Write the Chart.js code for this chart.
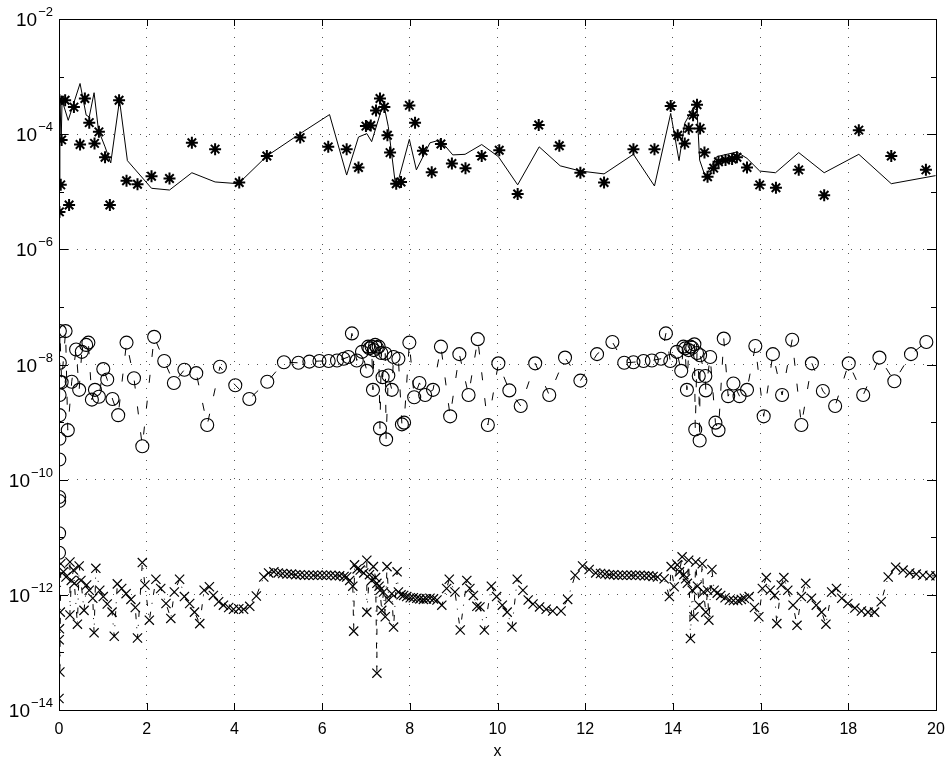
<!DOCTYPE html>
<html lang="en">
<head>
    <meta charset="UTF-8">
    <title>Log-scale error plot</title>
    <script src="https://cdn.jsdelivr.net/npm/chart.js"></script>
    <style>
        html, body { margin: 0; background: #fff; overflow: hidden; }
        #wrap { width: 947px; height: 761px; }
        #errChart { display: block; }
    </style>
</head>
<body>
    <div id="wrap"><canvas id="errChart"></canvas></div>

    <script>
        // x ticks and y decades (exponents of 10)
        const xTicks = [0, 2, 4, 6, 8, 10, 12, 14, 16, 18, 20];
        const yDecades = [-14, -13, -12, -11, -10, -9, -8, -7, -6, -5, -4, -3, -2];

        // top series: solid line (x, log10 y)
        const topLineX = [0.01, 0.02, 0.05, 0.07, 0.21, 0.48, 0.62, 0.69, 0.80, 0.90, 1.05, 1.18, 1.38, 1.56, 2.11, 2.52, 3.03, 3.56, 4.09, 4.74, 5.50, 6.17, 6.56, 6.83, 7.02, 7.13, 7.40, 7.51, 7.67, 7.74, 7.99, 8.15, 8.46, 8.69, 8.98, 9.26, 9.64, 10.02, 10.46, 10.95, 11.43, 11.89, 12.43, 13.10, 13.58, 13.95, 14.14, 14.27, 14.46, 14.55, 14.61, 14.74, 15.00, 15.46, 15.69, 15.98, 16.34, 16.87, 17.45, 18.24, 18.98, 19.99];
        const topLineLog = [-4.95, -3.41, -4.10, -3.41, -3.76, -3.12, -3.67, -3.70, -3.28, -3.93, -4.22, -4.50, -3.41, -4.46, -4.94, -4.97, -4.67, -4.83, -4.86, -4.38, -3.99, -3.66, -4.71, -4.05, -3.99, -4.13, -3.46, -3.87, -4.86, -4.80, -4.09, -4.62, -4.15, -4.10, -4.36, -4.35, -4.18, -4.39, -4.88, -4.22, -4.55, -4.64, -4.69, -4.35, -4.90, -3.64, -4.46, -3.81, -3.55, -3.58, -4.45, -4.74, -4.39, -4.31, -4.42, -4.64, -4.67, -4.32, -4.67, -4.35, -4.86, -4.72];

        // top series: asterisk markers
        const topMarkX = [0.01, 0.01, 0.04, 0.06, 0.14, 0.23, 0.34, 0.48, 0.59, 0.69, 0.81, 0.91, 1.05, 1.16, 1.37, 1.54, 1.79, 2.11, 2.52, 3.03, 3.56, 4.11, 4.74, 5.50, 6.14, 6.56, 6.83, 7.00, 7.11, 7.23, 7.32, 7.42, 7.49, 7.55, 7.69, 7.80, 7.99, 8.12, 8.30, 8.50, 8.71, 8.96, 9.27, 9.64, 10.04, 10.46, 10.94, 11.41, 11.89, 12.43, 13.10, 13.58, 13.95, 14.11, 14.27, 14.36, 14.46, 14.55, 14.62, 14.72, 14.79, 14.93, 15.04, 15.20, 15.35, 15.46, 15.69, 15.98, 16.35, 16.87, 17.45, 18.24, 18.98, 19.77];
        const topMarkLog = [-3.41, -5.35, -4.88, -4.10, -3.41, -5.23, -3.53, -4.18, -3.38, -3.80, -4.16, -3.96, -4.40, -5.23, -3.41, -4.81, -4.87, -4.73, -4.77, -4.15, -4.26, -4.84, -4.38, -4.06, -4.22, -4.26, -4.58, -3.86, -3.85, -3.59, -3.38, -3.53, -4.02, -4.32, -4.86, -4.83, -3.50, -3.80, -4.29, -4.66, -4.17, -4.51, -4.59, -4.38, -4.28, -5.04, -3.84, -4.20, -4.67, -4.84, -4.26, -4.26, -3.51, -4.02, -4.16, -3.90, -3.67, -3.49, -3.90, -4.32, -4.74, -4.59, -4.48, -4.45, -4.43, -4.40, -4.58, -4.88, -4.93, -4.62, -5.06, -3.93, -4.38, -4.62];

        // middle series: circles joined by a dashed line
        const midX = [0.000, 0.002, 0.004, 0.005, 0.007, 0.009, 0.011, 0.013, 0.015, 0.018, 0.02, 0.06, 0.15, 0.20, 0.29, 0.39, 0.46, 0.52, 0.62, 0.67, 0.75, 0.82, 0.91, 1.01, 1.10, 1.22, 1.35, 1.54, 1.71, 1.90, 2.17, 2.40, 2.62, 2.86, 3.13, 3.38, 3.67, 4.02, 4.34, 4.75, 5.13, 5.46, 5.71, 5.94, 6.15, 6.34, 6.49, 6.60, 6.68, 6.79, 6.91, 7.02, 7.05, 7.08, 7.13, 7.16, 7.18, 7.21, 7.25, 7.29, 7.32, 7.35, 7.38, 7.44, 7.46, 7.51, 7.59, 7.63, 7.74, 7.82, 7.87, 7.99, 8.10, 8.22, 8.35, 8.53, 8.71, 8.92, 9.13, 9.34, 9.55, 9.78, 10.02, 10.27, 10.53, 10.86, 11.18, 11.54, 11.89, 12.27, 12.62, 12.89, 13.10, 13.33, 13.52, 13.73, 13.84, 13.94, 14.09, 14.19, 14.24, 14.28, 14.32, 14.36, 14.40, 14.44, 14.49, 14.51, 14.55, 14.59, 14.61, 14.62, 14.74, 14.75, 14.85, 14.97, 15.04, 15.16, 15.26, 15.38, 15.52, 15.69, 15.88, 16.07, 16.28, 16.49, 16.72, 16.93, 17.17, 17.42, 17.70, 18.01, 18.34, 18.71, 19.05, 19.43, 19.78];
        const midLog = [-11.27, -10.93, -10.37, -10.30, -9.65, -9.29, -8.88, -8.53, -8.30, -7.97, -7.42, -8.31, -7.42, -9.14, -8.30, -7.74, -8.44, -7.78, -7.66, -7.62, -8.61, -8.44, -8.56, -8.08, -8.26, -8.60, -8.88, -7.62, -8.24, -9.42, -7.52, -7.94, -8.32, -8.09, -8.15, -9.05, -8.04, -8.36, -8.60, -8.30, -7.96, -7.97, -7.95, -7.94, -7.94, -7.93, -7.90, -7.87, -7.46, -7.93, -7.78, -8.11, -7.69, -7.72, -7.69, -8.44, -7.75, -7.66, -7.71, -7.69, -9.11, -7.80, -8.22, -7.81, -9.30, -8.19, -8.44, -7.87, -7.90, -9.04, -9.01, -7.62, -8.57, -8.32, -8.53, -8.44, -7.69, -8.90, -7.82, -8.53, -7.56, -9.05, -7.98, -8.45, -8.72, -7.98, -8.53, -7.88, -8.28, -7.82, -7.61, -7.97, -7.96, -7.94, -7.93, -7.90, -7.46, -7.94, -7.78, -8.11, -7.69, -7.72, -8.44, -7.75, -7.69, -7.71, -7.65, -9.13, -7.80, -8.20, -9.32, -7.84, -8.20, -8.45, -7.87, -9.01, -9.14, -7.55, -8.55, -8.33, -8.55, -8.44, -7.68, -8.90, -7.82, -8.53, -7.57, -9.05, -7.98, -8.46, -8.72, -7.98, -8.53, -7.88, -8.29, -7.82, -7.61];

        // bottom series: x markers joined by a dash-dot line
        const botX = [0.000, 0.005, 0.01, 0.02, 0.03, 0.04, 0.10, 0.16, 0.25, 0.25, 0.28, 0.33, 0.35, 0.42, 0.46, 0.50, 0.57, 0.63, 0.69, 0.77, 0.80, 0.84, 0.93, 1.01, 1.10, 1.21, 1.26, 1.33, 1.43, 1.53, 1.64, 1.74, 1.79, 1.90, 1.96, 2.06, 2.21, 2.32, 2.44, 2.55, 2.63, 2.75, 2.86, 2.98, 3.09, 3.21, 3.31, 3.43, 3.52, 3.64, 3.75, 3.87, 3.98, 4.10, 4.21, 4.35, 4.50, 4.67, 4.78, 4.90, 5.00, 5.10, 5.20, 5.30, 5.40, 5.50, 5.60, 5.70, 5.80, 5.90, 6.00, 6.10, 6.20, 6.30, 6.40, 6.50, 6.56, 6.63, 6.70, 6.72, 6.74, 6.80, 6.87, 6.95, 7.02, 7.02, 7.08, 7.13, 7.17, 7.22, 7.25, 7.25, 7.30, 7.32, 7.36, 7.40, 7.44, 7.48, 7.52, 7.59, 7.63, 7.71, 7.74, 7.80, 7.86, 7.93, 8.01, 8.08, 8.16, 8.23, 8.31, 8.38, 8.46, 8.54, 8.62, 8.73, 8.84, 8.90, 9.03, 9.15, 9.30, 9.37, 9.45, 9.53, 9.60, 9.70, 9.86, 9.98, 10.11, 10.22, 10.33, 10.45, 10.58, 10.70, 10.81, 10.96, 11.11, 11.26, 11.45, 11.60, 11.77, 11.94, 12.09, 12.24, 12.35, 12.45, 12.55, 12.65, 12.75, 12.85, 12.95, 13.05, 13.15, 13.25, 13.35, 13.45, 13.55, 13.65, 13.80, 13.92, 13.96, 14.03, 14.10, 14.15, 14.21, 14.25, 14.29, 14.33, 14.36, 14.40, 14.44, 14.48, 14.52, 14.56, 14.60, 14.67, 14.70, 14.75, 14.79, 14.82, 14.89, 14.94, 15.01, 15.09, 15.19, 15.29, 15.38, 15.48, 15.56, 15.63, 15.74, 15.86, 15.96, 16.04, 16.13, 16.22, 16.32, 16.37, 16.47, 16.53, 16.62, 16.74, 16.83, 16.93, 17.03, 17.16, 17.27, 17.39, 17.49, 17.62, 17.73, 17.85, 17.99, 18.15, 18.30, 18.45, 18.60, 18.75, 18.91, 19.08, 19.25, 19.40, 19.55, 19.70, 19.86, 20.00];
        const botLog = [-13.80, -12.78, -12.59, -13.34, -12.30, -11.46, -11.60, -11.69, -11.43, -12.35, -11.75, -11.57, -11.80, -12.51, -11.50, -11.75, -12.27, -11.83, -11.92, -12.06, -12.66, -11.54, -11.92, -12.03, -12.16, -12.30, -12.72, -11.81, -11.89, -11.98, -12.08, -12.22, -12.75, -11.44, -11.83, -12.44, -11.73, -11.89, -12.15, -12.41, -11.95, -11.73, -12.03, -12.15, -12.30, -12.50, -11.92, -11.86, -12.01, -12.12, -12.18, -12.22, -12.25, -12.24, -12.25, -12.20, -12.02, -11.69, -11.62, -11.60, -11.62, -11.63, -11.64, -11.64, -11.65, -11.65, -11.66, -11.66, -11.66, -11.66, -11.66, -11.66, -11.66, -11.67, -11.67, -11.68, -11.69, -11.75, -11.85, -12.63, -11.48, -11.55, -11.57, -11.62, -11.40, -12.30, -11.65, -11.75, -11.51, -11.70, -13.36, -11.80, -11.85, -11.92, -12.27, -11.95, -12.38, -11.51, -12.09, -11.98, -12.56, -11.60, -11.95, -12.00, -12.01, -12.03, -12.05, -12.05, -12.06, -12.07, -12.08, -12.07, -12.06, -12.07, -12.09, -12.18, -11.89, -11.73, -11.95, -12.61, -11.75, -11.89, -12.01, -12.20, -12.21, -12.61, -11.85, -12.03, -12.18, -12.30, -12.56, -11.73, -11.92, -12.09, -12.16, -12.21, -12.25, -12.28, -12.28, -12.08, -11.66, -11.50, -11.56, -11.62, -11.63, -11.64, -11.65, -11.65, -11.66, -11.66, -11.66, -11.66, -11.66, -11.66, -11.67, -11.67, -11.68, -11.69, -11.72, -12.03, -11.51, -11.86, -11.48, -11.60, -11.34, -11.65, -11.72, -11.80, -11.40, -12.76, -11.92, -12.38, -11.43, -11.85, -12.18, -11.46, -11.95, -12.30, -11.92, -12.44, -11.56, -11.92, -11.97, -12.01, -12.05, -12.09, -12.10, -12.10, -12.08, -12.06, -12.03, -12.22, -12.38, -11.89, -11.70, -11.92, -12.01, -12.50, -11.83, -11.70, -11.92, -12.18, -12.53, -12.03, -11.80, -12.06, -12.18, -12.30, -12.51, -11.95, -11.89, -12.06, -12.15, -12.23, -12.28, -12.30, -12.30, -12.12, -11.69, -11.52, -11.57, -11.62, -11.64, -11.66, -11.67, -11.67];

        function toPoints(xs, logs) {
            return xs.map((x, i) => ({ x: x, y: Math.pow(10, logs[i]) }));
        }

        // frame, inward ticks and 10^n labels, drawn on top like matlab
        const framePlugin = {
            id: 'frame',
            afterDraw(chart) {
                const ctx = chart.ctx;
                const a = chart.chartArea;
                const xs = chart.scales.x;
                const ys = chart.scales.y;
                ctx.save();
                ctx.strokeStyle = '#000';
                ctx.lineWidth = 1;
                ctx.setLineDash([]);
                ctx.strokeRect(a.left + 0.5, a.top + 0.5, a.right - a.left, a.bottom - a.top);

                ctx.beginPath();
                xTicks.forEach(v => {
                    const px = Math.round(xs.getPixelForValue(v)) + 0.5;
                    ctx.moveTo(px, a.bottom); ctx.lineTo(px, a.bottom - 7);
                    ctx.moveTo(px, a.top); ctx.lineTo(px, a.top + 7);
                });
                yDecades.forEach(e => {
                    const py = Math.round(ys.getPixelForValue(Math.pow(10, e))) + 0.5;
                    const len = (e % 2 === 0) ? 9 : 5;
                    ctx.moveTo(a.left, py); ctx.lineTo(a.left + len, py);
                    ctx.moveTo(a.right, py); ctx.lineTo(a.right - len, py);
                });
                ctx.stroke();

                // y labels: 10 with superscript exponent
                ctx.fillStyle = '#000';
                yDecades.filter(e => e % 2 === 0).forEach(e => {
                    const py = ys.getPixelForValue(Math.pow(10, e));
                    const expTxt = '\u2212' + Math.abs(e);
                    ctx.font = '13px "Liberation Sans", Arial, sans-serif';
                    const ew = ctx.measureText(expTxt).width;
                    ctx.textAlign = 'left';
                    ctx.textBaseline = 'alphabetic';
                    const right = 53;
                    ctx.fillText(expTxt, right - ew, py - 3);
                    ctx.font = '19px "Liberation Sans", Arial, sans-serif';
                    ctx.textAlign = 'right';
                    ctx.fillText('10', right - ew - 1, py + 7);
                });
                ctx.restore();
            }
        };

        const ctx = document.getElementById('errChart').getContext('2d');
        const chart = new Chart(ctx, {
            type: 'scatter',
            data: {
                datasets: [
                    {
                        label: 'top line',
                        data: toPoints(topLineX, topLineLog),
                        showLine: true,
                        borderColor: '#000',
                        borderWidth: 1,
                        pointRadius: 0
                    },
                    {
                        label: 'top markers',
                        data: toPoints(topMarkX, topMarkLog),
                        pointStyle: 'star',
                        pointRadius: 6,
                        borderColor: '#000',
                        pointBorderWidth: 2
                    },
                    {
                        label: 'middle line',
                        data: toPoints(midX, midLog),
                        showLine: true,
                        borderColor: '#000',
                        borderWidth: 1,
                        borderDash: [8, 18],
                        pointRadius: 0
                    },
                    {
                        label: 'middle markers',
                        data: toPoints(midX, midLog),
                        pointStyle: 'circle',
                        pointRadius: 6.5,
                        borderColor: '#000',
                        backgroundColor: 'rgba(0,0,0,0)',
                        pointBorderWidth: 1.1
                    },
                    {
                        label: 'bottom line',
                        data: toPoints(botX, botLog),
                        showLine: true,
                        borderColor: '#000',
                        borderWidth: 1,
                        borderDash: [6, 8, 1, 8],
                        pointRadius: 0
                    },
                    {
                        label: 'bottom markers',
                        data: toPoints(botX, botLog),
                        pointStyle: 'crossRot',
                        pointRadius: 6.5,
                        borderColor: '#000',
                        pointBorderWidth: 1.2
                    }
                ]
            },
            options: {
                responsive: true,
                maintainAspectRatio: false,
                animation: false,
                layout: { padding: { left: 0, right: 11, top: 19, bottom: 0 } },
                plugins: { legend: { display: false }, tooltip: { enabled: false } },
                scales: {
                    x: {
                        type: 'linear',
                        min: 0,
                        max: 20,
                        afterBuildTicks: s => { s.ticks = xTicks.map(v => ({ value: v })); },
                        afterFit: s => { s.height = 51; s.paddingLeft = 0; s.paddingRight = 0; },
                        border: { display: false, dash: [1, 8] },
                        grid: { color: '#555', lineWidth: 1, drawTicks: false },
                        ticks: {
                            color: '#000',
                            padding: 10,
                            maxRotation: 0,
                            font: { family: '"Liberation Sans", Arial, sans-serif', size: 16 }
                        },
                        title: {
                            display: true,
                            text: 'x',
                            color: '#000',
                            padding: { top: 2, bottom: 0 },
                            font: { family: '"Liberation Sans", Arial, sans-serif', size: 16 }
                        }
                    },
                    y: {
                        type: 'logarithmic',
                        min: 1e-14,
                        max: 1e-2,
                        afterBuildTicks: s => { s.ticks = yDecades.map(e => ({ value: Math.pow(10, e) })); },
                        afterFit: s => { s.width = 59; s.paddingTop = 0; s.paddingBottom = 0; },
                        border: { display: false, dash: [1, 8] },
                        grid: {
                            drawTicks: false,
                            lineWidth: 1,
                            color: c => {
                                const e = Math.round(Math.log10(c.tick.value));
                                return (e % 2 === 0) ? '#555' : 'rgba(0,0,0,0)';
                            }
                        },
                        ticks: { display: false }
                    }
                }
            },
            plugins: [framePlugin]
        });
    </script>
</body>
</html>
